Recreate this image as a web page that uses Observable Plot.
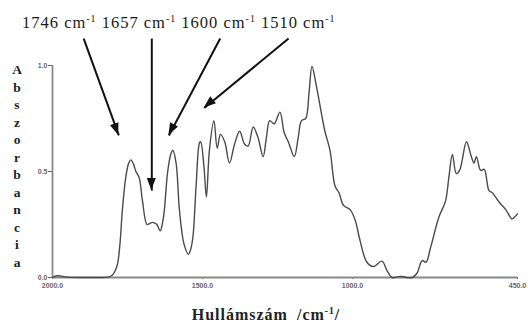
<!DOCTYPE html>
<html>
<head>
<meta charset="utf-8">
<script src="https://cdn.jsdelivr.net/npm/d3@7"></script>
<script src="https://cdn.jsdelivr.net/npm/@observablehq/plot@0.6"></script>
<style>
  html, body { margin: 0; padding: 0; background: #fff; }
  #chart { position: relative; width: 528px; height: 326px; overflow: hidden; }
  #chart svg { position: absolute; left: 0; top: 0; }
  #peaks {
    position: absolute; left: 22px; top: 13px; white-space: nowrap;
    font-family: "Liberation Serif", "DejaVu Serif", serif; font-size: 16.5px; color: #1a1a1a;
    letter-spacing: 1px;
  }
  #peaks sup, #xlabel sup { font-size: 0.6em; vertical-align: 0.6em; line-height: 0; }
  #ylabel {
    position: absolute; left: 10px; top: 61px; width: 14px; text-align: center;
    font-family: "Liberation Serif", serif; font-weight: bold; font-size: 13.5px;
    line-height: 17.5px; color: #222;
  }
  #xlabel {
    position: absolute; left: 0; width: 532px; top: 306px; text-align: center;
    font-family: "Liberation Serif", serif; font-weight: bold; font-size: 16px; color: #222;
    word-spacing: 4px; letter-spacing: 1px;
  }
</style>
</head>
<body>
<div id="chart"></div>
<script>
// IR spectrum: wavenumber (cm-1) and absorbance
const wavenumber = [2000, 1985, 1950, 1900, 1850, 1815, 1800, 1790, 1783, 1775, 1767, 1756, 1746, 1739, 1730,
  1722, 1711, 1700, 1685, 1675, 1666, 1657, 1652, 1641, 1633, 1627, 1616, 1605, 1599, 1588, 1577, 1562,
  1547, 1540, 1532, 1521, 1510, 1506, 1495, 1487, 1477, 1462, 1451, 1440, 1426, 1410, 1393, 1376, 1360,
  1348, 1331, 1315, 1298, 1287, 1276, 1261, 1242, 1228, 1214, 1194, 1181, 1170, 1156, 1145, 1135, 1120,
  1103, 1092, 1075, 1058, 1045, 1030, 1008, 991, 975, 952, 930, 902, 885, 868, 850, 835, 820, 801, 785,
  768, 755, 740, 712, 690, 679, 667, 654, 643, 620, 606, 595, 587, 573, 561, 545, 534, 511, 489, 469, 460, 450];
const absorbance = [0.0, 0.008, 0.002, 0.0, 0.0, 0.002, 0.012, 0.035, 0.065, 0.16, 0.32, 0.47, 0.54, 0.555, 0.535,
  0.50, 0.47, 0.36, 0.25, 0.255, 0.26, 0.255, 0.25, 0.22, 0.26, 0.32, 0.50, 0.585, 0.60, 0.54, 0.32, 0.16,
  0.11, 0.13, 0.19, 0.44, 0.635, 0.64, 0.52, 0.38, 0.60, 0.74, 0.61, 0.675, 0.64, 0.54, 0.63, 0.69, 0.63,
  0.62, 0.71, 0.66, 0.57, 0.66, 0.74, 0.725, 0.78, 0.685, 0.64, 0.57, 0.66, 0.74, 0.75, 0.87, 0.995, 0.90,
  0.77, 0.69, 0.60, 0.43, 0.40, 0.34, 0.32, 0.27, 0.175, 0.072, 0.052, 0.077, 0.033, 0.0, 0.003, 0.005, 0.0, 0.0, 0.02,
  0.08, 0.072, 0.14, 0.285, 0.36, 0.47, 0.58, 0.49, 0.505, 0.64, 0.58, 0.54, 0.57, 0.505, 0.51, 0.41, 0.40, 0.355, 0.32, 0.277, 0.285, 0.30];

// Assigned bands and their pointer arrows (start above the frame, tip near the band)
const peaks = [1746, 1657, 1600, 1510];
const arrowStartW = [1896, 1669, 1441, 1213];
const arrowTipW = [1779, 1669, 1612, 1494];
const arrowTipA = [0.67, 0.41, 0.67, 0.80];
const arrowStartA = 1.127;

// Axis ticks
const xTicks = [2000, 1500, 1000, 450];
const yTicks = [0, 0.5, 1.0];

const spectrum = wavenumber.map((w, i) => ({w, a: absorbance[i]}));
const arrows = peaks.map((p, i) => ({x1: arrowStartW[i], y1: arrowStartA, x2: arrowTipW[i], y2: arrowTipA[i]}));

// Filled triangular heads at the arrow tips, oriented along each shaft
const arrowHeads = (index, scales) => {
  const g = d3.create("svg:g");
  for (const a of arrows) {
    const x1 = scales.x(a.x1), y1 = scales.y(a.y1), x2 = scales.x(a.x2), y2 = scales.y(a.y2);
    const ang = Math.atan2(y2 - y1, x2 - x1) * 180 / Math.PI;
    g.append("path")
      .attr("d", "M0,0L-12,-4.5L-12,4.5Z")
      .attr("transform", `translate(${x2},${y2}) rotate(${ang})`)
      .attr("fill", "#111");
  }
  return g.node();
};

const plot = Plot.plot({
  width: 528,
  height: 326,
  marginLeft: 52,
  marginRight: 11,
  marginTop: 65,
  marginBottom: 49,
  style: {background: "transparent", fontFamily: "Liberation Sans, sans-serif", fontSize: "7px", fontWeight: "bold", color: "#666"},
  x: {domain: [2000, 450], ticks: xTicks, tickFormat: d3.format(".1f"), tickSize: 2, tickPadding: 4, label: null},
  y: {domain: [0, 1], ticks: yTicks, tickFormat: d3.format(".1f"), tickSize: 4, tickPadding: 1, label: null},
  marks: [
    Plot.ruleY([0], {stroke: "#888", strokeWidth: 1.8}),
    Plot.ruleX([2000], {y1: 0, y2: 1, stroke: "#888", strokeWidth: 1.8}),
    Plot.line(spectrum, {x: "w", y: "a", stroke: "#4a4a4a", strokeWidth: 1.4, curve: "catmull-rom"}),
    Plot.link(arrows, {x1: "x1", y1: "y1", x2: "x2", y2: "y2", stroke: "#111", strokeWidth: 2}),
    arrowHeads
  ]
});

const chart = document.getElementById("chart");
chart.appendChild(plot);

const header = document.createElement("div");
header.id = "peaks";
header.innerHTML = peaks.map(p => `${p} cm<sup>-1</sup>`).join(" ");
chart.appendChild(header);

const ylab = document.createElement("div");
ylab.id = "ylabel";
ylab.innerHTML = Array.from("Abszorbancia").map(c => `<div>${c}</div>`).join("");
chart.appendChild(ylab);

const xlab = document.createElement("div");
xlab.id = "xlabel";
xlab.innerHTML = "Hullámszám /cm<sup>-1</sup>/";
chart.appendChild(xlab);
</script>
</body>
</html>
